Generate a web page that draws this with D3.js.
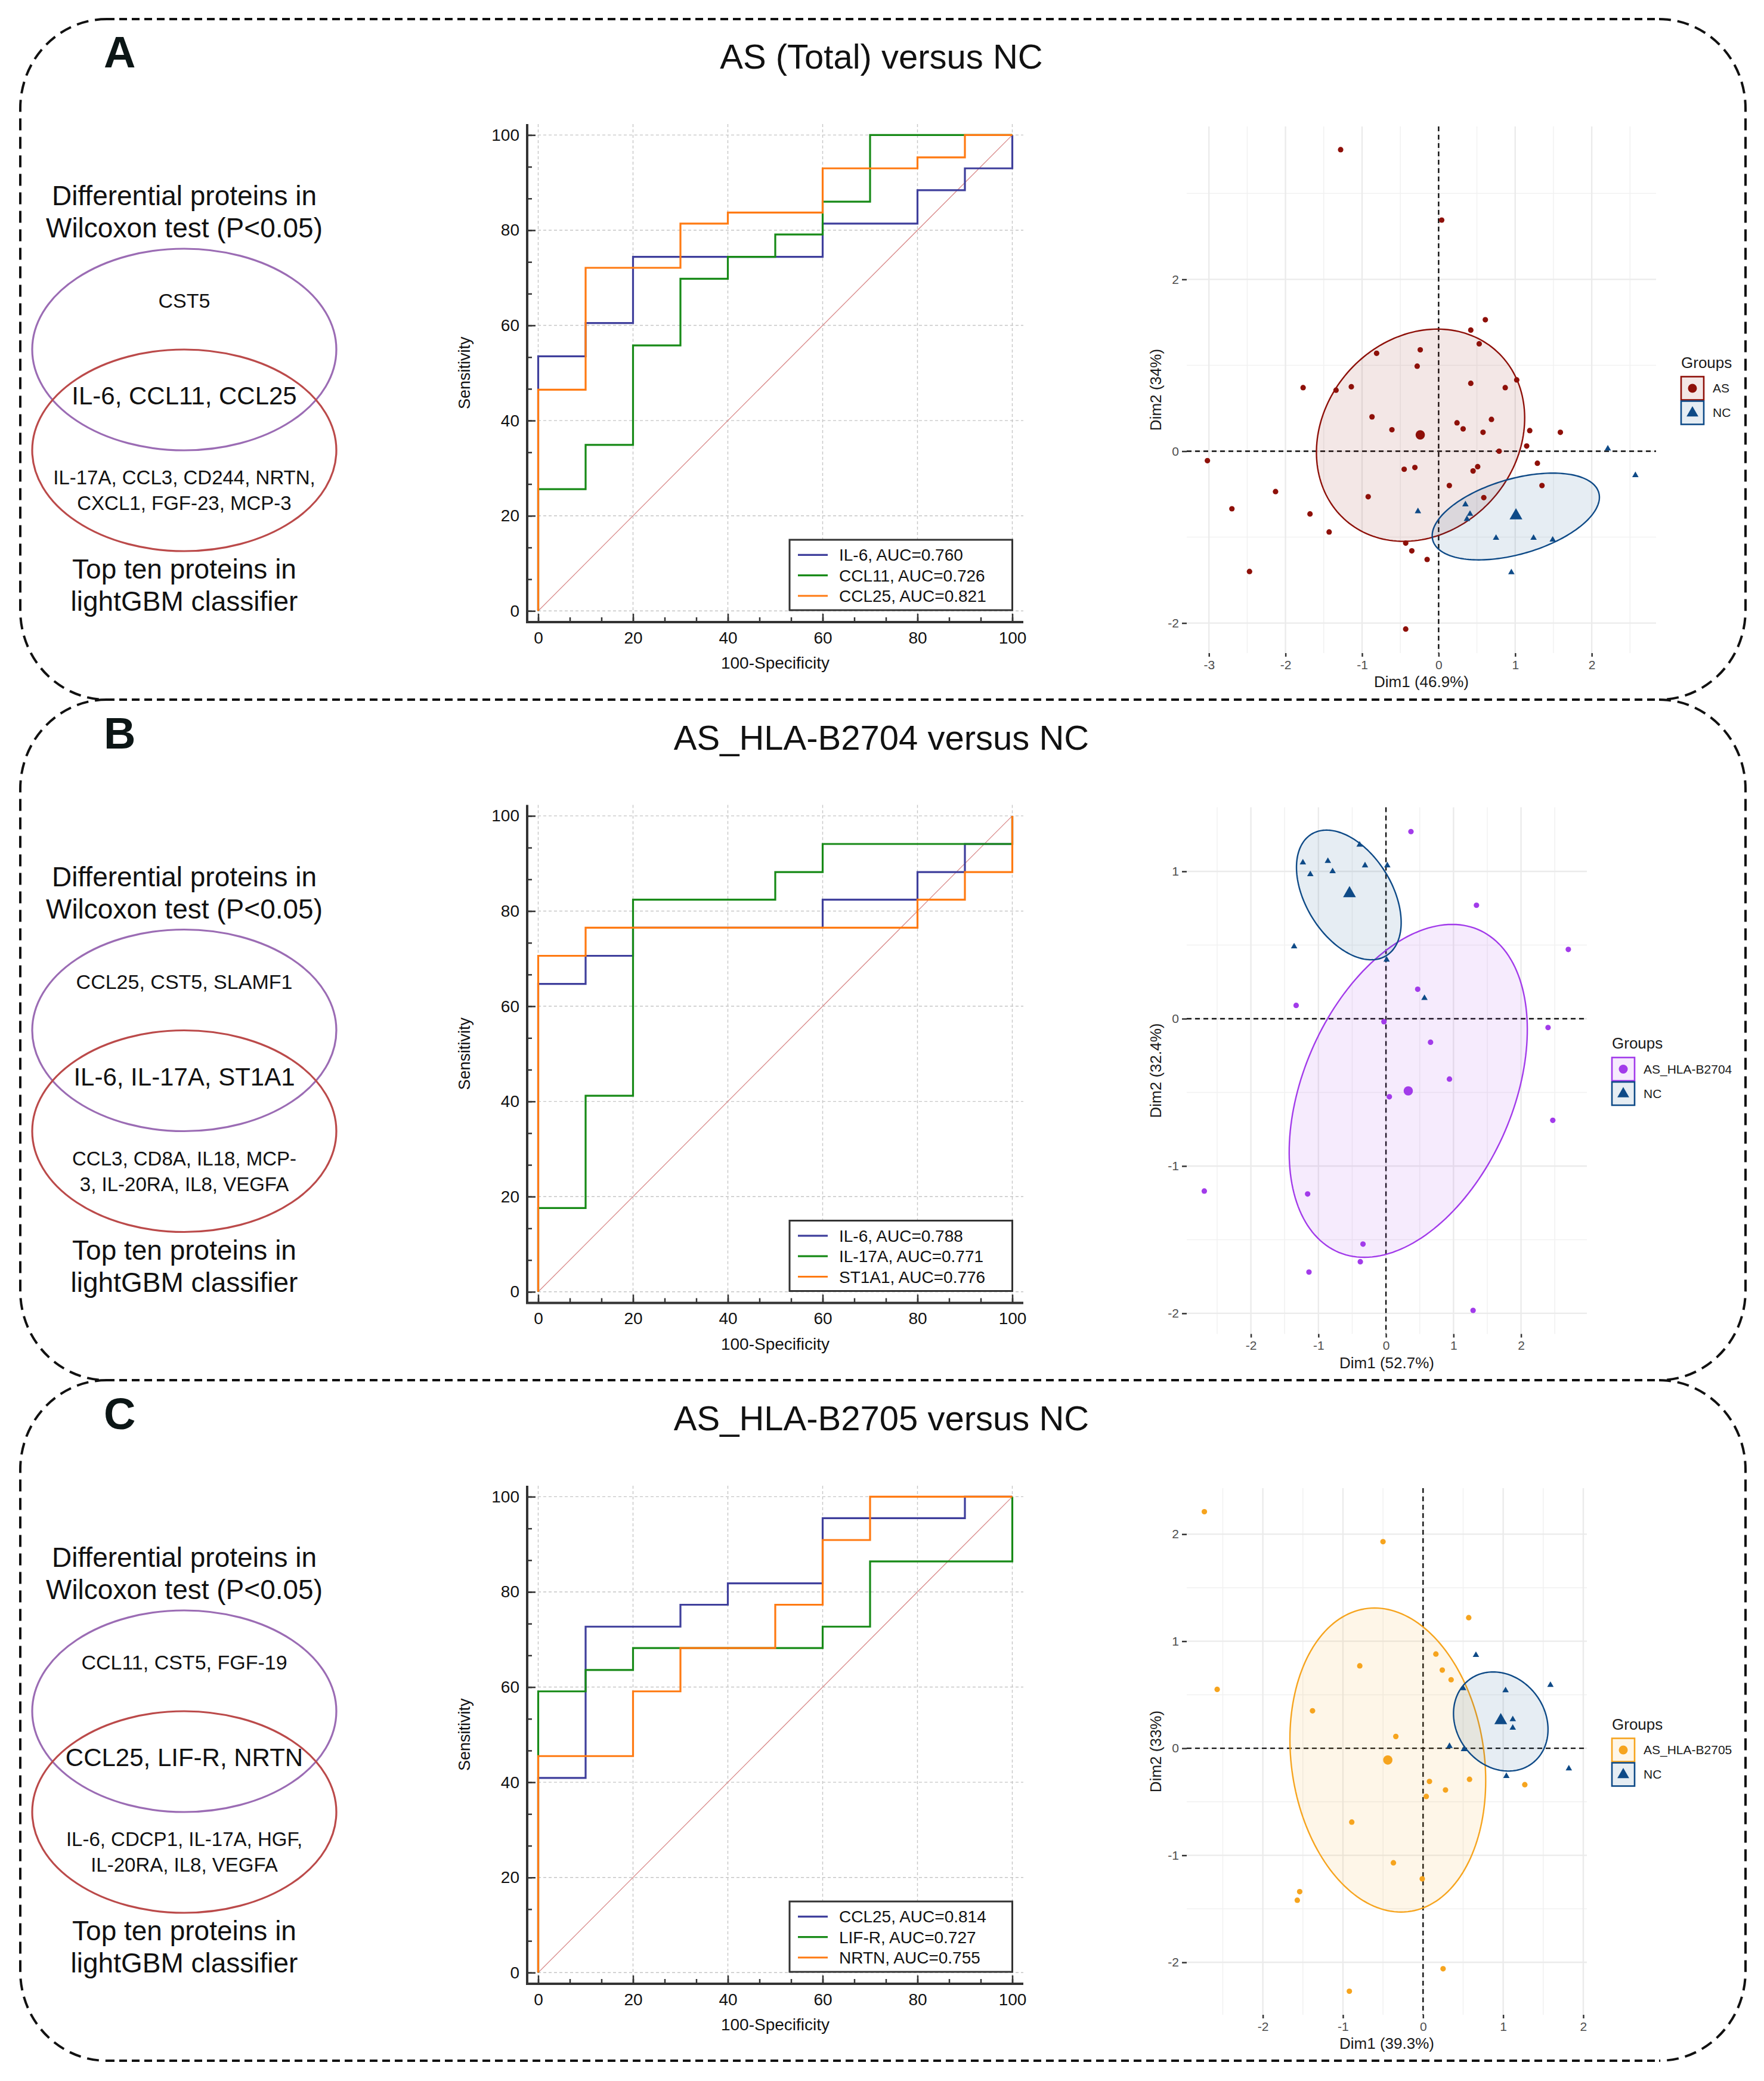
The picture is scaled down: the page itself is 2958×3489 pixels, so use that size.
<!DOCTYPE html>
<html>
<head>
<meta charset="utf-8">
<script src="https://cdn.jsdelivr.net/npm/d3@7"></script>
<style>
    body { margin: 0; background: #fff; }
</style>
</head>
<body>
<script>
/* ================= values ================= */
var panelLetters = ["A", "B", "C"];
var panelTitles = ["AS (Total) versus NC", "AS_HLA-B2704 versus NC", "AS_HLA-B2705 versus NC"];

var vennUpperLabel = ["Differential proteins in", "Wilcoxon test (P<0.05)"];
var vennLowerLabel = ["Top ten proteins in", "lightGBM classifier"];
var vennWilcoxonOnly = ["CST5", "CCL25, CST5, SLAMF1", "CCL11, CST5, FGF-19"];
var vennShared = ["IL-6, CCL11, CCL25", "IL-6, IL-17A, ST1A1", "CCL25, LIF-R, NRTN"];
var vennLgbmOnly = [
    ["IL-17A, CCL3, CD244, NRTN,", "CXCL1, FGF-23, MCP-3"],
    ["CCL3, CD8A, IL18, MCP-", "3, IL-20RA, IL8, VEGFA"],
    ["IL-6, CDCP1, IL-17A, HGF,", "IL-20RA, IL8, VEGFA"]
];

var rocTicks = [0, 20, 40, 60, 80, 100];
var rocMarkers = [["IL-6", "CCL11", "CCL25"], ["IL-6", "IL-17A", "ST1A1"], ["CCL25", "LIF-R", "NRTN"]];
var rocAuc = [[0.760, 0.726, 0.821], [0.788, 0.771, 0.776], [0.814, 0.727, 0.755]];
//corners of the step curves: 100-specificity ...
var rocFpr = [
    [[0, 0, 10, 20, 60, 80, 90, 100], [0, 0, 10, 20, 30, 40, 50, 60, 70, 100], [0, 0, 10, 30, 40, 60, 80, 90, 100]],
    [[0, 0, 10, 20, 60, 80, 90, 100], [0, 0, 10, 20, 50, 60, 100], [0, 0, 10, 80, 90, 100]],
    [[0, 0, 10, 30, 40, 60, 90, 100], [0, 0, 10, 20, 60, 70, 100], [0, 0, 20, 30, 50, 60, 70, 100]]
];
//... and sensitivity
var rocTpr = [
    [[0, 53.5, 60.5, 74.4, 81.4, 88.4, 93.0, 100], [0, 25.6, 34.9, 55.8, 69.8, 74.4, 79.1, 86.0, 100, 100], [0, 46.5, 72.1, 81.4, 83.7, 93.0, 95.3, 100, 100]],
    [[0, 64.7, 70.6, 76.5, 82.4, 88.2, 94.1, 100], [0, 17.6, 41.2, 82.4, 88.2, 94.1, 100], [0, 70.6, 76.5, 82.4, 88.2, 100]],
    [[0, 40.9, 72.7, 77.3, 81.8, 95.5, 100, 100], [0, 59.1, 63.6, 68.2, 72.7, 86.4, 100], [0, 45.5, 59.1, 68.2, 77.3, 90.9, 100, 100]]
];

var pcaGroups = [["AS", "NC"], ["AS_HLA-B2704", "NC"], ["AS_HLA-B2705", "NC"]];
var pcaDim1 = ["Dim1 (46.9%)", "Dim1 (52.7%)", "Dim1 (39.3%)"];
var pcaDim2 = ["Dim2 (34%)", "Dim2 (32.4%)", "Dim2 (33%)"];
var pcaXDomain = [[-3.29, 2.84], [-2.95, 2.975], [-2.95, 2.045]];
var pcaYDomain = [[-2.35, 3.78], [-2.14, 1.435], [-2.49, 2.43]];
var pcaXTicks = [[-3, -2, -1, 0, 1, 2], [-2, -1, 0, 1, 2], [-2, -1, 0, 1, 2]];
var pcaYTicks = [[-2, 0, 2], [-2, -1, 0, 1], [-2, -1, 0, 1, 2]];

var pcaCaseX = [
    [-1.28, 0.04, 0.61, 0.42, 0.53, -0.24, -0.81, -0.28, -1.77, -1.34, -1.14, 1.02, 0.42, 0.87, -0.87, 0.69, 0.24, 0.32, -0.61, 0.58, 1.19, 1.59, 1.15, 0.79, -3.02, 1.29, 0.51, 0.45, -0.45, -0.31, 0.14, 1.35, -2.13, -0.92, 0.59, -2.70, -1.68, -1.43, -0.43, -0.35, -0.15, -2.47, -0.43],
    [0.37, 1.34, 2.70, 0.47, -1.33, -0.03, 2.40, 0.66, 0.94, 0.05, 2.47, -2.69, -1.16, -0.34, -0.38, -1.14, 1.29],
    [-2.73, -0.50, 0.57, 0.16, -0.79, 0.24, 0.35, -2.57, -1.38, -0.34, 0.08, 0.58, 1.27, 0.28, 0.04, -0.89, -0.37, -0.01, -1.54, -1.57, 0.25, -0.92]
];
var pcaCaseY = [
    [3.51, 2.69, 1.53, 1.41, 1.25, 1.18, 1.14, 0.99, 0.74, 0.71, 0.75, 0.83, 0.79, 0.74, 0.40, 0.37, 0.33, 0.26, 0.25, 0.22, 0.24, 0.22, 0.06, 0.00, -0.11, -0.14, -0.18, -0.23, -0.21, -0.19, -0.40, -0.40, -0.47, -0.53, -0.54, -0.67, -0.73, -0.94, -1.07, -1.16, -1.26, -1.40, -2.07],
    [1.27, 0.77, 0.47, 0.20, 0.09, -0.02, -0.06, -0.16, -0.41, -0.53, -0.69, -1.17, -1.19, -1.53, -1.65, -1.72, -1.98],
    [2.21, 1.93, 1.22, 0.88, 0.77, 0.73, 0.64, 0.55, 0.35, 0.11, -0.31, -0.29, -0.34, -0.39, -0.45, -0.69, -1.07, -1.22, -1.34, -1.42, -2.06, -2.27]
];
var pcaNcX = [
    [2.21, 2.57, -0.27, 0.35, 0.41, 0.37, 0.75, 1.24, 1.49, 0.95],
    [-0.39, -1.23, -0.86, -0.31, 0.02, -1.12, -0.79, -1.36, 0.01, 0.57],
    [0.66, 1.59, 1.03, 0.50, 1.12, 1.12, 0.33, 0.51, 1.82, 1.04]
];
var pcaNcY = [
    [0.03, -0.28, -0.70, -0.62, -0.73, -0.79, -1.01, -1.01, -1.03, -1.41],
    [1.18, 1.06, 1.07, 1.04, 1.04, 0.98, 1.00, 0.49, 0.40, 0.14],
    [0.87, 0.59, 0.54, 0.56, 0.27, 0.19, 0.02, -0.01, -0.19, -0.26]
];
var pcaCaseMean = [[-0.24, 0.19], [0.33, -0.49], [-0.44, -0.11]];
var pcaNcMean = [[1.01, -0.75], [-0.54, 0.85], [0.97, 0.26]];
//ellipses: centre x, centre y, half width, half height, x shift of the top point
var pcaCaseEllipse = [[-0.236, 0.186, 1.36, 1.235, 0.22], [0.33, -0.49, 1.763, 1.13, 0.65], [-0.44, -0.11, 1.222, 1.42, -0.165]];
var pcaNcEllipse = [[1.008, -0.76, 1.092, 0.505, 0.484], [-0.55, 0.84, 0.775, 0.44, -0.33], [0.97, 0.25, 0.59, 0.463, -0.095]];

var Figure = (function () {
    var svg;
    var font = '"Liberation Sans", Arial, Helvetica, sans-serif';
    var panelStep = 1141.5;
    var rocColors = ["#3f3f9c", "#178a17", "#ff7a12"];
    var caseColors = ["#8e1009", "#a23bea", "#f6a41e"];
    var ncColor = "#0e4a87";
    var pcaRight = [2777, 2661, 2661];

    /* =============== export public methods =============== */
    return {
        init: init,
        load: load
    };

    /* =================== public methods ================== */
    function init() {
        svg = d3.select("body").append("svg")
            .attr("width", 2958)
            .attr("height", 3489)
            .style("font-family", font);

        svg.append("rect")
            .attr("width", 2958)
            .attr("height", 3489)
            .attr("fill", "#fff");
    }

    function load() {
        panelLetters.forEach(function (letter, i) {
            var g = svg.append("g")
                .attr("transform", "translate(0," + i * panelStep + ")");

            drawHeader(g, i);
            drawVenn(g, i);
            drawRoc(g, i);
            drawPca(g, i);
        });
        drawBorders();
    }

    /* =================== private methods ================= */
    function drawHeader(g, i) {
        g.append("text")
            .attr("x", 174)
            .attr("y", 113)
            .attr("font-size", 74)
            .attr("font-weight", "bold")
            .attr("fill", "#0c1616")
            .text(panelLetters[i]);

        g.append("text")
            .attr("x", 1478)
            .attr("y", 115)
            .attr("text-anchor", "middle")
            .attr("font-size", 58)
            .attr("fill", "#111")
            .text(panelTitles[i]);
    }

    function drawVenn(g, i) {
        var cx = 309;

        g.append("ellipse")
            .attr("cx", cx).attr("cy", 586).attr("rx", 255).attr("ry", 169)
            .attr("fill", "none").attr("stroke", "#9b6cb4").attr("stroke-width", 3.2);

        g.append("ellipse")
            .attr("cx", cx).attr("cy", 755).attr("rx", 255).attr("ry", 169)
            .attr("fill", "none").attr("stroke", "#bb4a4a").attr("stroke-width", 3.2);

        addLines(g, vennUpperLabel, cx, 344, 54, 46);
        addLines(g, [vennWilcoxonOnly[i]], cx, 516, 0, 34);
        addLines(g, [vennShared[i]], cx, 678, 0, 42);
        addLines(g, vennLgbmOnly[i], cx, 812, 43, 33);
        addLines(g, vennLowerLabel, cx, 970, 54, 46);
    }

    function addLines(g, lines, x, y, lineHeight, size) {
        lines.forEach(function (line, j) {
            g.append("text")
                .attr("x", x)
                .attr("y", y + j * lineHeight)
                .attr("text-anchor", "middle")
                .attr("font-size", size)
                .attr("fill", "#111")
                .text(line);
        });
    }

    function drawRoc(g, i) {
        var x = d3.scaleLinear().domain([0, 100]).range([902.5, 1697.5]);
        var y = d3.scaleLinear().domain([0, 100]).range([1024.3, 226.4]);
        var left = 884, bottom = 1043, right = 1716, top = 208;
        var minorTicks = d3.range(0, 100.1, 20 / 3);

        //Dashed grid at the major ticks
        var grid = g.append("g")
            .attr("stroke", "#c6c6c6")
            .attr("stroke-width", 1.4)
            .attr("stroke-dasharray", "5,4");
        grid.selectAll(".vgrid").data(rocTicks).enter().append("line")
            .attr("class", "vgrid")
            .attr("x1", x).attr("x2", x).attr("y1", top).attr("y2", bottom);
        grid.selectAll(".hgrid").data(rocTicks).enter().append("line")
            .attr("class", "hgrid")
            .attr("x1", left).attr("x2", right).attr("y1", y).attr("y2", y);

        //Chance line
        g.append("line")
            .attr("x1", x(0)).attr("y1", y(0)).attr("x2", x(100)).attr("y2", y(100))
            .attr("stroke", "#d98a8a").attr("stroke-width", 1.3);

        //Axes: long major ticks, short minor ticks, both inwards
        styleAxis(g.append("g").attr("transform", "translate(0," + bottom + ")")
            .call(d3.axisBottom(x).tickValues(rocTicks).tickSizeInner(-14).tickSizeOuter(0).tickPadding(16)), 28, "#111");
        styleAxis(g.append("g").attr("transform", "translate(0," + bottom + ")")
            .call(d3.axisBottom(x).tickValues(minorTicks).tickSize(-8).tickFormat("")), 28, "#111");
        styleAxis(g.append("g").attr("transform", "translate(" + left + ",0)")
            .call(d3.axisLeft(y).tickValues(rocTicks).tickSizeInner(-14).tickSizeOuter(0).tickPadding(13)), 28, "#111");
        styleAxis(g.append("g").attr("transform", "translate(" + left + ",0)")
            .call(d3.axisLeft(y).tickValues(minorTicks).tickSize(-8).tickFormat("")), 28, "#111");

        g.append("path")
            .attr("d", "M" + left + "," + top + "V" + bottom + "H" + right)
            .attr("fill", "none")
            .attr("stroke", "#333")
            .attr("stroke-width", 4);

        //Step curves
        var line = d3.line()
            .x(function (d) { return x(d[0]); })
            .y(function (d) { return y(d[1]); })
            .curve(d3.curveStepAfter);

        rocMarkers[i].forEach(function (name, j) {
            g.append("path")
                .attr("d", line(d3.zip(rocFpr[i][j], rocTpr[i][j])))
                .attr("fill", "none")
                .attr("stroke", rocColors[j])
                .attr("stroke-width", 3.2);
        });

        //Axis titles
        g.append("text")
            .attr("x", (x(0) + x(100)) / 2)
            .attr("y", 1121)
            .attr("text-anchor", "middle")
            .attr("font-size", 28)
            .attr("fill", "#111")
            .text("100-Specificity");

        g.append("text")
            .attr("transform", "translate(779," + (y(0) + y(100)) / 2 + ") rotate(-90)")
            .attr("dy", "0.35em")
            .attr("text-anchor", "middle")
            .attr("font-size", 27)
            .attr("fill", "#111")
            .text("Sensitivity");

        //Legend
        var legend = g.append("g").attr("transform", "translate(1324,905)");
        legend.append("rect")
            .attr("width", 373.5)
            .attr("height", 118)
            .attr("fill", "#fff")
            .attr("stroke", "#333")
            .attr("stroke-width", 3);

        rocMarkers[i].forEach(function (name, j) {
            var ly = 25.4 + j * 34.3;
            legend.append("line")
                .attr("x1", 14).attr("x2", 64).attr("y1", ly).attr("y2", ly)
                .attr("stroke", rocColors[j]).attr("stroke-width", 3.2);
            legend.append("text")
                .attr("x", 83)
                .attr("y", ly)
                .attr("dy", "0.36em")
                .attr("font-size", 28)
                .attr("fill", "#111")
                .text(name + ", AUC=" + d3.format(".3f")(rocAuc[i][j]));
        });
    }

    function styleAxis(axis, size, color) {
        axis.attr("font-family", font).attr("font-size", size);
        axis.select(".domain").remove();
        axis.selectAll(".tick line").attr("stroke", "#333").attr("stroke-width", 2.5);
        axis.selectAll(".tick text").attr("fill", color);
    }

    function halfSteps(major, domain) {
        var step = major[1] - major[0];
        return d3.range(major[0] - step / 2 - 4 * step, domain[1], step)
            .filter(function (v) { return v >= domain[0]; });
    }

    function ellipsePoints(e) {
        var a = Math.sqrt(e[2] * e[2] - e[4] * e[4]);
        return d3.range(0, 2 * Math.PI, Math.PI / 90).map(function (t) {
            return [e[0] + a * Math.cos(t) + e[4] * Math.sin(t), e[1] + e[3] * Math.sin(t)];
        });
    }

    function drawPca(g, i) {
        var left = 1990, right = pcaRight[i], top = 212, bottom = 1095;
        var x = d3.scaleLinear().domain(pcaXDomain[i]).range([left, right]);
        var y = d3.scaleLinear().domain(pcaYDomain[i]).range([bottom, top]);
        var color = caseColors[i];

        //Grid, theme_minimal style
        var grid = g.append("g");
        grid.selectAll(".vminor").data(halfSteps(pcaXTicks[i], x.domain())).enter().append("line")
            .attr("class", "vminor")
            .attr("x1", x).attr("x2", x).attr("y1", top).attr("y2", bottom)
            .attr("stroke", "#f1f1f1").attr("stroke-width", 1.5);
        grid.selectAll(".hminor").data(halfSteps(pcaYTicks[i], y.domain())).enter().append("line")
            .attr("class", "hminor")
            .attr("x1", left).attr("x2", right).attr("y1", y).attr("y2", y)
            .attr("stroke", "#f1f1f1").attr("stroke-width", 1.5);
        grid.selectAll(".vmajor").data(pcaXTicks[i]).enter().append("line")
            .attr("class", "vmajor")
            .attr("x1", x).attr("x2", x).attr("y1", top).attr("y2", bottom)
            .attr("stroke", "#ebebeb").attr("stroke-width", 2.4);
        grid.selectAll(".hmajor").data(pcaYTicks[i]).enter().append("line")
            .attr("class", "hmajor")
            .attr("x1", left).attr("x2", right).attr("y1", y).attr("y2", y)
            .attr("stroke", "#ebebeb").attr("stroke-width", 2.4);

        //Axes
        var plain = function (d) { return String(d); };
        styleAxis(g.append("g").attr("transform", "translate(0," + bottom + ")")
            .call(d3.axisBottom(x).tickValues(pcaXTicks[i]).tickSize(6).tickPadding(6).tickFormat(plain)), 21, "#4d4d4d");
        styleAxis(g.append("g").attr("transform", "translate(" + left + ",0)")
            .call(d3.axisLeft(y).tickValues(pcaYTicks[i]).tickSize(8).tickPadding(5).tickFormat(plain)), 21, "#4d4d4d");
        g.selectAll(".tick line").filter(function () { return this.getAttribute("stroke-width") === "2.5"; });

        //Dashed origin lines
        g.append("line")
            .attr("x1", x(0)).attr("x2", x(0)).attr("y1", top).attr("y2", bottom)
            .attr("stroke", "#111").attr("stroke-width", 2.4).attr("stroke-dasharray", "8,6");
        g.append("line")
            .attr("x1", left).attr("x2", right).attr("y1", y(0)).attr("y2", y(0))
            .attr("stroke", "#111").attr("stroke-width", 2.4).attr("stroke-dasharray", "8,6");

        //Concentration ellipses
        var outline = d3.line()
            .x(function (d) { return x(d[0]); })
            .y(function (d) { return y(d[1]); })
            .curve(d3.curveLinearClosed);

        [[pcaCaseEllipse[i], color], [pcaNcEllipse[i], ncColor]].forEach(function (e) {
            g.append("path")
                .attr("d", outline(ellipsePoints(e[0])))
                .attr("fill", e[1])
                .attr("fill-opacity", 0.1)
                .attr("stroke", e[1])
                .attr("stroke-width", 2.4);
        });

        //Individuals
        g.selectAll(".case").data(d3.zip(pcaCaseX[i], pcaCaseY[i])).enter().append("circle")
            .attr("class", "case")
            .attr("cx", function (d) { return x(d[0]); })
            .attr("cy", function (d) { return y(d[1]); })
            .attr("r", 4.6)
            .attr("fill", color);

        var tri = d3.symbol().type(d3.symbolTriangle);
        g.selectAll(".nc").data(d3.zip(pcaNcX[i], pcaNcY[i])).enter().append("path")
            .attr("class", "nc")
            .attr("d", tri.size(50)())
            .attr("transform", function (d) { return "translate(" + x(d[0]) + "," + y(d[1]) + ")"; })
            .attr("fill", ncColor);

        //Group means
        g.append("circle")
            .attr("cx", x(pcaCaseMean[i][0]))
            .attr("cy", y(pcaCaseMean[i][1]))
            .attr("r", 7.8)
            .attr("fill", color);
        g.append("path")
            .attr("d", tri.size(200)())
            .attr("transform", "translate(" + x(pcaNcMean[i][0]) + "," + y(pcaNcMean[i][1]) + ")")
            .attr("fill", ncColor);

        //Axis titles
        g.append("text")
            .attr("x", (left + right) / 2)
            .attr("y", bottom + 57)
            .attr("text-anchor", "middle")
            .attr("font-size", 26)
            .attr("fill", "#1a1a1a")
            .text(pcaDim1[i]);
        g.append("text")
            .attr("transform", "translate(1938," + (top + bottom) / 2 + ") rotate(-90)")
            .attr("dy", "0.35em")
            .attr("text-anchor", "middle")
            .attr("font-size", 26)
            .attr("fill", "#1a1a1a")
            .text(pcaDim2[i]);

        //Legend
        var lx = right + 42, c = (top + bottom) / 2;
        g.append("text")
            .attr("x", lx)
            .attr("y", c - 37)
            .attr("font-size", 26)
            .attr("fill", "#1a1a1a")
            .text("Groups");

        [color, ncColor].forEach(function (col, j) {
            var by = c - 22 + j * 41;
            g.append("rect")
                .attr("x", lx).attr("y", by).attr("width", 38).attr("height", 39)
                .attr("fill", col).attr("fill-opacity", 0.1)
                .attr("stroke", col).attr("stroke-width", 2.6);
            if (j === 0) {
                g.append("circle").attr("cx", lx + 19).attr("cy", by + 19.5).attr("r", 7.5).attr("fill", col);
            } else {
                g.append("path").attr("d", tri.size(170)())
                    .attr("transform", "translate(" + (lx + 19) + "," + (by + 20) + ")")
                    .attr("fill", col);
            }
            g.append("text")
                .attr("x", lx + 53)
                .attr("y", by + 19.5)
                .attr("dy", "0.35em")
                .attr("font-size", 21)
                .attr("fill", "#1a1a1a")
                .text(pcaGroups[i][j]);
        });
    }

    function drawBorders() {
        var x0 = 34, x1 = 2927, rx = 145, ry = 150;
        var edges = [32, 1173, 2314, 3455];
        var frame = svg.append("g")
            .attr("fill", "none")
            .attr("stroke", "#111")
            .attr("stroke-width", 4);

        //Straight top and bottom edges, shared between panels
        edges.forEach(function (ey) {
            frame.append("line")
                .attr("x1", x0 + rx).attr("x2", x1 - rx).attr("y1", ey).attr("y2", ey)
                .attr("stroke-dasharray", "13,8");
        });

        //Rounded sides of each panel
        d3.pairs(edges).forEach(function (p) {
            var y0 = p[0], y1 = p[1];
            frame.append("path")
                .attr("stroke-dasharray", "20,11")
                .attr("d", "M" + (x0 + rx) + "," + y0 +
                    "A" + rx + "," + ry + " 0 0 0 " + x0 + "," + (y0 + ry) +
                    "L" + x0 + "," + (y1 - ry) +
                    "A" + rx + "," + ry + " 0 0 0 " + (x0 + rx) + "," + y1);
            frame.append("path")
                .attr("stroke-dasharray", "20,11")
                .attr("d", "M" + (x1 - rx) + "," + y0 +
                    "A" + rx + "," + ry + " 0 0 1 " + x1 + "," + (y0 + ry) +
                    "L" + x1 + "," + (y1 - ry) +
                    "A" + rx + "," + ry + " 0 0 1 " + (x1 - rx) + "," + y1);
        });
    }
}());

Figure.init();
Figure.load();
</script>
</body>
</html>
